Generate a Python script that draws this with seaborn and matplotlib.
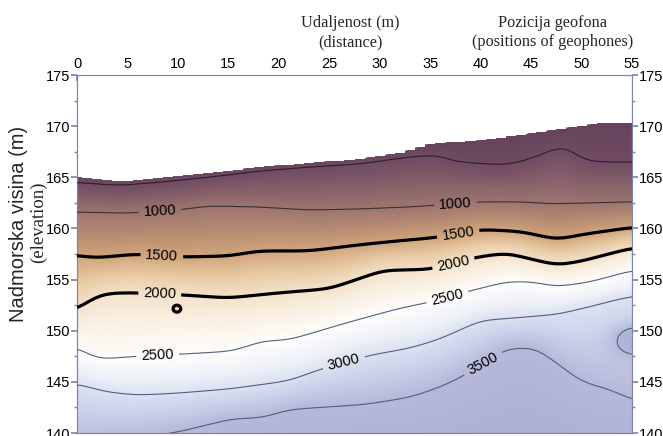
import numpy as np
import matplotlib
matplotlib.use("Agg")
import matplotlib.pyplot as plt
import seaborn as sns
from matplotlib.colors import LinearSegmentedColormap

# ---------------- data ----------------
x_ticks = [0, 5, 10, 15, 20, 25, 30, 35, 40, 45, 50, 55]
y_ticks = [140, 145, 150, 155, 160, 165, 170, 175]

# ground surface (elevation, m)
surface_x = [0, 2, 4, 8, 13, 18, 23, 28, 32, 35, 40, 45, 49, 52, 55]
surface_z = [165.0, 164.8, 164.6, 164.9, 165.4, 166.0, 166.4, 166.8, 167.4, 168.3, 168.6, 169.3, 169.9, 170.3, 170.3]

# isovelocity lines (m/s) : x positions and elevations
iso500_x = [0, 4, 8, 13, 18, 23, 28, 33, 36, 37, 39, 42.5, 45, 46.6, 48.5, 49.5, 51, 55]
iso500_z = [164.5, 164.2, 164.5, 165.0, 165.6, 166.0, 166.3, 167.0, 167.2, 166.6, 166.4, 166.2, 166.8, 167.5, 168.2, 167.0, 166.5, 166.5]

iso1000_x = [0, 5, 10, 13, 18, 23, 28, 33, 36, 40, 44, 47, 51, 55]
iso1000_z = [161.6, 161.5, 161.8, 162.2, 162.1, 161.8, 161.9, 162.1, 162.3, 162.6, 162.6, 162.4, 162.5, 162.6]

iso1500_x = [0, 1.6, 6, 10, 15, 18, 23, 28, 32, 35.5, 40, 44, 47.6, 50, 55]
iso1500_z = [157.4, 157.1, 157.5, 157.2, 157.3, 157.8, 157.8, 158.4, 158.8, 159.1, 159.9, 159.7, 158.9, 159.4, 160.1]

iso2000_x = [0, 0.8, 1.6, 3.3, 6.2, 10.5, 15, 20, 25, 28, 30.3, 35, 39.6, 42.6, 45, 47.6, 50, 55]
iso2000_z = [152.0, 152.6, 153.3, 153.7, 153.7, 153.5, 153.2, 153.7, 154.1, 155.1, 155.9, 156.0, 157.2, 157.6, 157.0, 156.4, 156.8, 158.1]

iso2500_x = [0, 2, 6, 12, 15.4, 18.4, 21, 26.8, 32, 35, 38.6, 42.6, 45, 47.6, 51, 55]
iso2500_z = [148.4, 147.2, 147.5, 147.8, 148.0, 149.0, 149.1, 150.8, 152.2, 152.8, 153.8, 154.8, 154.8, 154.3, 154.8, 155.9]

iso3000_x = [0, 3, 6, 10, 15, 21, 24, 29, 33, 36, 40, 44, 47.6, 51, 55]
iso3000_z = [144.8, 144.0, 143.7, 143.9, 144.3, 145.1, 146.2, 147.6, 148.3, 149.2, 151.0, 151.3, 151.6, 152.4, 153.4]

iso3500_x = [0, 5, 8, 10, 15.4, 18.4, 21, 28.6, 33, 36.3, 40, 41.9, 43.8, 45.7, 47.6, 50, 53, 55]
iso3500_z = [138.8, 139.3, 139.8, 140.1, 141.4, 141.5, 142.3, 142.8, 143.5, 144.6, 146.5, 148.0, 148.4, 148.2, 146.8, 145.0, 144.2, 143.2]

deep_velocity_z = 134.0           # 4000 m/s, below the section

# local closed contours (small 2000 ring, 3500 lens at right edge)
anomaly_x = [9.9, 55.4]
anomaly_z = [152.1, 149.2]
anomaly_dv = [-260.0, 560.0]
anomaly_sx = [0.30, 1.6]
anomaly_sz = [0.27, 1.1]

line_levels = [500, 1000, 1500, 2000, 2500, 3000, 3500]
label_pos = [(8.2, 161.8), (37.5, 162.5), (8.4, 157.2), (37.8, 159.3),
             (8.2, 153.6), (37.3, 156.6), (8.0, 147.5), (36.7, 153.3),
             (26.4, 147.1), (40.0, 147.2)]

# ---------------- build the velocity section ----------------
sns.set_theme(style="ticks")
plt.rcParams["font.family"] = ["Liberation Sans", "DejaVu Sans"]

gx = np.linspace(0, 55, 441)
gz = np.linspace(137, 172, 701)
X, Z = np.meshgrid(gx, gz)
surf = np.interp(gx, surface_x, surface_z)

dx = gx[1] - gx[0]
ker_x = np.arange(-30, 31) * dx
kernel = np.exp(-0.5 * (ker_x / 0.9) ** 2)
kernel /= kernel.sum()


def smooth_line(ix, iz):
    z = np.interp(gx, ix, iz)
    zp = np.concatenate([np.full(30, z[0]), z, np.full(30, z[-1])])
    return np.convolve(zp, kernel, mode="same")[30:-30]


iso = [(500, iso500_x, iso500_z), (1000, iso1000_x, iso1000_z),
       (1500, iso1500_x, iso1500_z), (2000, iso2000_x, iso2000_z),
       (2500, iso2500_x, iso2500_z), (3000, iso3000_x, iso3000_z),
       (3500, iso3500_x, iso3500_z)]
iso_grid = [smooth_line(ix, iz) for _, ix, iz in iso]
vals = [300] + [v for v, _, _ in iso] + [4000]
V = np.empty_like(X)
for j in range(len(gx)):
    zs = [surf[j] + 0.6] + [g[j] for g in iso_grid] + [deep_velocity_z]
    V[:, j] = np.interp(gz, zs[::-1], vals[::-1])
for ax0, az0, dv, sx, sz in zip(anomaly_x, anomaly_z, anomaly_dv, anomaly_sx, anomaly_sz):
    V += dv * np.exp(-((X - ax0) ** 2 / (2 * sx ** 2) + (Z - az0) ** 2 / (2 * sz ** 2)))
Vm = np.ma.masked_where(Z > surf[None, :], V)

nodes = [(300, "#65425b"), (500, "#704b63"), (1000, "#9e7670"), (1250, "#b78c72"),
         (1500, "#d1a67d"), (1750, "#e8caa4"), (2000, "#f4e3cb"), (2250, "#faf2e7"),
         (2500, "#fefdfb"), (2750, "#f2f4fa"), (3000, "#dce2f1"), (3250, "#c8cee7"),
         (3500, "#b6b9da"), (4000, "#a7a9d0")]
vmin, vmax = 300, 4000
cmap = LinearSegmentedColormap.from_list(
    "vel", [((v - vmin) / (vmax - vmin), c) for v, c in nodes])

# ---------------- figure ----------------
fig = plt.figure(figsize=(6.63, 4.36), dpi=100)
ax = fig.add_axes([77 / 663, 1 - 433 / 436, (632 - 77) / 663, (433 - 75) / 436])
ax.set_facecolor("white")

ax.pcolormesh(X, Z, Vm, cmap=cmap, vmin=vmin, vmax=vmax, shading="gouraud",
              zorder=1, rasterized=True)

# staircase ground surface
sx_step = np.arange(0, 56, 1.0)
ax.fill_between(sx_step, np.interp(sx_step, surface_x, surface_z), 176,
                step="mid", color="white", zorder=2, linewidth=0)

line_cols = ["#2a2028", "#3b3030", "black", "black", "#51607e", "#51607e", "#51607e"]
line_w = [0.8, 0.8, 2.3, 2.3, 0.8, 0.8, 0.8]
cs = ax.contour(X, Z, Vm, levels=line_levels, colors=line_cols,
                linewidths=line_w, zorder=3)
labels = ax.clabel(cs, manual=label_pos, fmt="%d",
                   fontsize=10.5, inline=True, inline_spacing=5, colors="black")
for t in labels:
    t.set_zorder(4)

ax.set_xlim(0, 55)
ax.set_ylim(140, 175)
ax.set_xticks(x_ticks)
ax.set_yticks(y_ticks)
ax.set_yticks(np.arange(140, 175, 2.5), minor=True)
spc = "#7b88ad"
for s in ax.spines.values():
    s.set_visible(True)
    s.set_color(spc)
    s.set_linewidth(0.9)
ax.tick_params(axis="x", which="both", top=True, labeltop=True, bottom=False,
               labelbottom=False, direction="in", length=4, color=spc,
               labelsize=10.5, pad=3, labelcolor="black")
ax.tick_params(axis="y", which="major", left=True, right=True, labelleft=True,
               labelright=True, direction="out", length=4, color=spc,
               labelsize=10.5, pad=1, labelcolor="black")
ax.tick_params(axis="y", which="minor", left=True, right=True, direction="out",
               length=2.5, color=spc)
ax.set_xlabel("")
ax.set_ylabel("")

serif = ["Liberation Serif", "DejaVu Serif"]
fig.text(350 / 663, 1 - 23 / 436, "Udaljenost (m)", family=serif, fontsize=11.7,
         ha="center", va="center")
fig.text(350 / 663, 1 - 42 / 436, "(distance)", family=serif, fontsize=11.7,
         ha="center", va="center")
fig.text(553 / 663, 1 - 23 / 436, "Pozicija geofona", family=serif, fontsize=11.7,
         ha="center", va="center")
fig.text(553 / 663, 1 - 42 / 436, "(positions of geophones)", family=serif,
         fontsize=11.7, ha="center", va="center")
fig.text(19 / 663, 1 - 224 / 436, "Nadmorska visina (m)", fontsize=14.5,
         rotation=90, ha="center", va="center")
fig.text(38 / 663, 1 - 222 / 436, "(elevation)", family=serif, fontsize=13.5,
         rotation=90, ha="center", va="center")

fig.savefig("out.png", dpi=100)
